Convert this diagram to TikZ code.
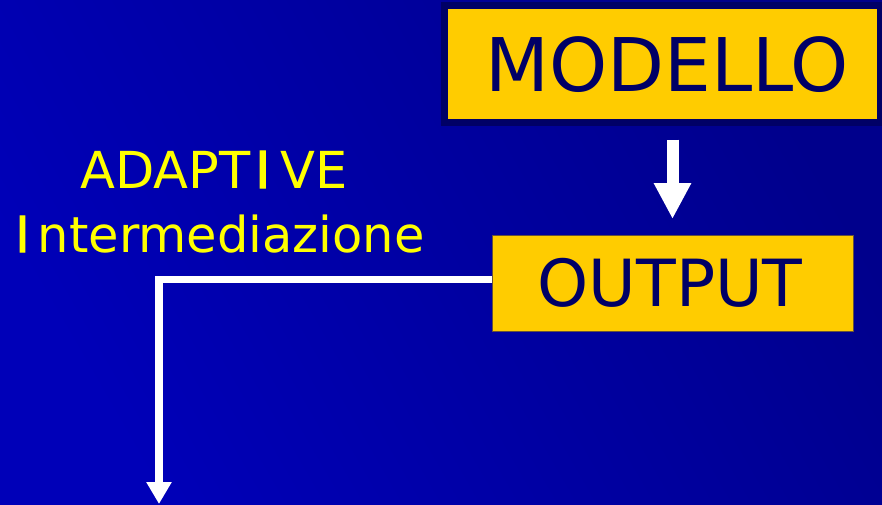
\documentclass[tikz,border=0pt]{standalone}
\usepackage{fontspec}
\setmainfont{DejaVu Sans}
\usetikzlibrary{arrows.meta}
\definecolor{bgA}{RGB}{0,0,184}
\definecolor{bgB}{RGB}{0,0,140}
\definecolor{boxyellow}{RGB}{255,204,0}
\definecolor{navytext}{RGB}{0,0,102}
\definecolor{labelyellow}{RGB}{255,255,0}
\newfontfamily\semiI[FakeBold=2]{DejaVu Sans}
\tikzset{
  ybox/.style={fill=boxyellow, inner sep=0pt, outer sep=0pt},
  boxtext/.style={text=navytext, anchor=base west, inner sep=0pt},
  lbltext/.style={text=labelyellow, anchor=base west, inner sep=0pt},
  wline/.style={white, line width=7.5pt},
}
\begin{document}
\begin{tikzpicture}[x=1pt,y=-1pt]
\useasboundingbox (0,0) rectangle (882,504);
\shade[left color=bgA, right color=bgB, shading angle=120] (0,0) rectangle (882,504);
% MODELLO box with dark frame
\node[ybox, draw=navytext, line width=7pt, minimum width=436pt, minimum height=117.5pt] (modello) at (662.5,63.75) {};
\node[boxtext, font=\fontsize{74}{80}\selectfont] (modtxt) at (485,91) {MODELLO};
% OUTPUT box
\node[ybox, draw=navytext!60!boxyellow, line width=1pt, minimum width=361pt, minimum height=96pt] (outputbox) at (672.5,283) {};
\node[boxtext, font=\fontsize{65}{70}\selectfont] (outtxt) at (537.5,306) {OUTPUT};
% label
\node[lbltext, font=\fontsize{51}{56}\selectfont] (adaptive) at (80,188) {ADAPT\hspace{5pt}{\semiI I}\hspace{10pt}VE};
\node[lbltext, font=\fontsize{49.5}{54}\selectfont] (interm) at (15,252) {{\semiI I}\hspace{8pt}ntermediazione};
% arrows
\draw[white, line width=12pt, -{Triangle[width=35pt,length=36pt]}, shorten <=17pt, shorten >=16pt]
  (outputbox.north |- modello.south) -- (outputbox.north);
\coordinate (bottomend) at (159,504);
\draw[wline, -{Triangle[width=24pt,length=22pt]}] ([yshift=3.5pt]outputbox.west) -| (bottomend);
\end{tikzpicture}
\end{document}
